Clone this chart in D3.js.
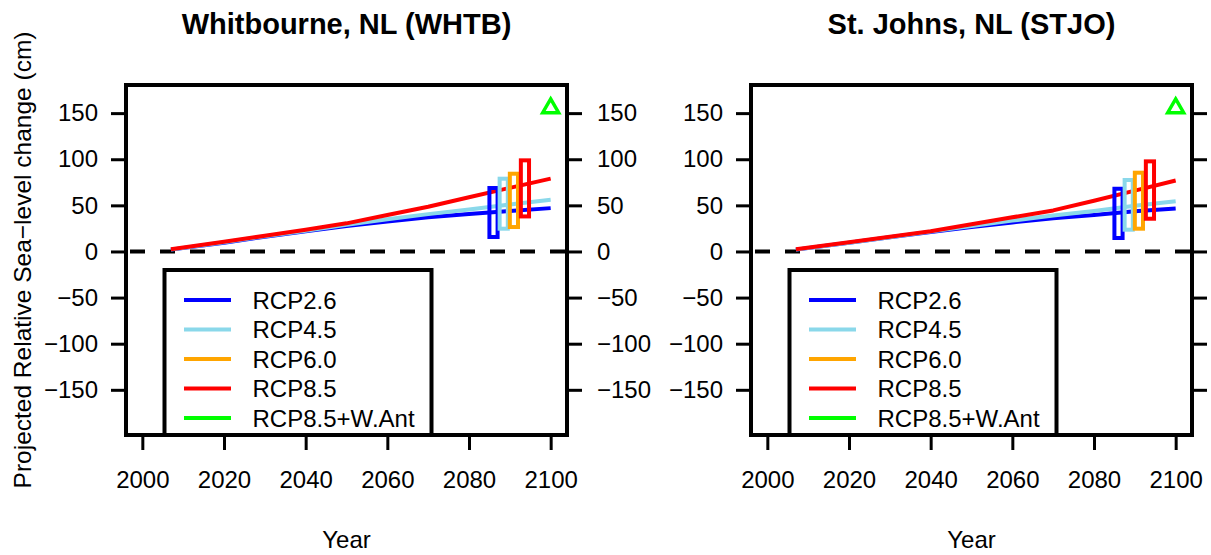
<!DOCTYPE html>
<html>
<head>
<meta charset="utf-8">
<script src="https://cdn.jsdelivr.net/npm/d3@7"></script>
<style>
  html, body { margin: 0; padding: 0; background: #fff; }
  svg { display: block; font-family: "Liberation Sans", Arial, sans-serif; }
</style>
</head>
<body>
<svg id="chart" width="1211" height="555"></svg>
<script>
// Projection years shared by both stations
const years = [2007, 2020, 2030, 2040, 2050, 2060, 2070, 2080, 2090, 2100];

// Whitbourne (WHTB) projected relative sea-level change, cm
const whtbRcp26 = [2, 9.5, 16, 22, 27.5, 32.5, 37, 40.5, 44, 47];
const whtbRcp45 = [2, 10, 16.5, 22.5, 29, 35, 40.5, 45.5, 51, 56];
const whtbRcp85 = [2.5, 10.5, 17, 23.5, 30.5, 39.5, 48.5, 58.8, 69, 79];

// St. Johns (STJO) projected relative sea-level change, cm
const stjoRcp26 = [2, 9.5, 15.5, 21, 26.5, 31.5, 36, 39.5, 43.5, 46.5];
const stjoRcp45 = [2, 9.5, 15.5, 21.5, 27.5, 33.5, 39, 44, 49.5, 54.5];
const stjoRcp85 = [2.5, 10, 16, 22, 29.5, 37, 44.5, 55, 66, 77];

// 2100 likely ranges drawn as boxes (RCP2.6, RCP4.5, RCP6.0, RCP8.5)
const rangeYears = [2086, 2088.5, 2091, 2093.7];
const whtbRangeLow  = [15.7, 24.7, 26.5, 38];
const whtbRangeHigh = [68.8, 78.9, 84.3, 98.8];
const stjoRangeLow  = [14.6, 23.6, 24.7, 35.5];
const stjoRangeHigh = [68, 77.5, 85.4, 97.7];

// RCP8.5 + West Antarctic contribution at 2100
const wantYear = 2100;
const whtbWAnt = 156.5;
const stjoWAnt = 156.5;

const scenarioNames = ["RCP2.6", "RCP4.5", "RCP6.0", "RCP8.5", "RCP8.5+W.Ant"];
const scenarioColors = ["#0000ff", "#8ad8ea", "#ffa500", "#ff0000", "#00ff00"];

const yTicks = [-150, -100, -50, 0, 50, 100, 150];
const xTicks = [2000, 2020, 2040, 2060, 2080, 2100];

const panels = [
  { title: "Whitbourne, NL (WHTB)", dx: 0, rcp26: whtbRcp26, rcp45: whtbRcp45, rcp85: whtbRcp85,
    low: whtbRangeLow, high: whtbRangeHigh, want: whtbWAnt, yLabel: true, rightLabels: true },
  { title: "St. Johns, NL (STJO)", dx: 625, rcp26: stjoRcp26, rcp45: stjoRcp45, rcp85: stjoRcp85,
    low: stjoRangeLow, high: stjoRangeHigh, want: stjoWAnt, yLabel: false, rightLabels: false }
];

const svg = d3.select("#chart");
const plotLeft = 126, plotRight = 567, plotTop = 85, plotBottom = 435;

const x = d3.scaleLinear().domain([1996, 2104]).range([plotLeft, plotRight]);
const y = d3.scaleLinear().domain([-199, 180.5]).range([plotBottom, plotTop]);

const signed = d => d < 0 ? "\u2212" + Math.abs(d) : String(d);

function styleAxis(g) {
  g.select(".domain").remove();
  g.selectAll(".tick line").attr("stroke", "#000").attr("stroke-width", 3);
  g.selectAll(".tick text").attr("fill", "#000").attr("font-size", 24)
    .attr("font-family", "'Liberation Sans', Arial, sans-serif");
}

panels.forEach(p => {
  const g = svg.append("g").attr("transform", `translate(${p.dx},0)`);

  // title
  g.append("text").attr("x", (plotLeft + plotRight) / 2).attr("y", 34)
    .attr("text-anchor", "middle").attr("font-size", 29).attr("font-weight", "bold")
    .text(p.title);

  // axes
  g.append("g").attr("transform", `translate(0,${plotBottom})`)
    .call(d3.axisBottom(x).tickValues(xTicks).tickFormat(d3.format("d")).tickSize(15).tickPadding(21))
    .call(styleAxis);
  g.append("g").attr("transform", `translate(${plotLeft},0)`)
    .call(d3.axisLeft(y).tickValues(yTicks).tickFormat(signed).tickSize(15).tickPadding(13))
    .call(styleAxis);
  const rAxis = g.append("g").attr("transform", `translate(${plotRight},0)`)
    .call(d3.axisRight(y).tickValues(yTicks).tickFormat(signed).tickSize(15).tickPadding(15))
    .call(styleAxis);
  if (!p.rightLabels) rAxis.selectAll(".tick text").remove();

  // axis titles
  g.append("text").attr("x", (plotLeft + plotRight) / 2).attr("y", 548)
    .attr("text-anchor", "middle").attr("font-size", 24).text("Year");
  if (p.yLabel) {
    g.append("text").attr("transform", `translate(31,${(plotTop + plotBottom) / 2}) rotate(-90)`)
      .attr("text-anchor", "middle").attr("font-size", 24.5)
      .text("Projected Relative Sea\u2212level change (cm)");
  }

  // zero reference line
  g.append("line").attr("x1", plotLeft).attr("x2", plotRight).attr("y1", y(0)).attr("y2", y(0))
    .attr("stroke", "#000").attr("stroke-width", 4).attr("stroke-dasharray", "15,15")
    .attr("stroke-dashoffset", -4);

  // projection lines
  const line = d3.line().x((d, i) => x(years[i])).y(d => y(d));
  [[p.rcp26, 0], [p.rcp45, 1], [p.rcp85, 3]].forEach(([vals, ci]) => {
    g.append("path").datum(vals).attr("d", line).attr("fill", "none")
      .attr("stroke", scenarioColors[ci]).attr("stroke-width", 4).attr("stroke-linejoin", "round");
  });

  // 2100 ranges
  rangeYears.forEach((yr, i) => {
    g.append("rect").attr("x", x(yr - 1)).attr("width", x(yr + 1) - x(yr - 1))
      .attr("y", y(p.high[i])).attr("height", y(p.low[i]) - y(p.high[i]))
      .attr("fill", "none").attr("stroke", scenarioColors[i]).attr("stroke-width", 4);
  });

  // West Antarctic marker (open triangle)
  const tx = x(wantYear), ty = y(p.want);
  g.append("path").attr("d", d3.symbol().type(d3.symbolTriangle).size(110)())
    .attr("transform", `translate(${tx},${ty + 1})`)
    .attr("fill", "none").attr("stroke", scenarioColors[4]).attr("stroke-width", 3.5);

  // legend
  const lg = g.append("g");
  lg.append("rect").attr("x", 164.5).attr("y", 270).attr("width", 267).attr("height", plotBottom - 270)
    .attr("fill", "#fff").attr("stroke", "#000").attr("stroke-width", 4);
  const rowY = [300, 329.5, 359, 388.5, 418];
  scenarioNames.forEach((name, i) => {
    lg.append("line").attr("x1", 184).attr("x2", 231).attr("y1", rowY[i]).attr("y2", rowY[i])
      .attr("stroke", scenarioColors[i]).attr("stroke-width", 4);
    lg.append("text").attr("x", 252.5).attr("y", rowY[i] + 8.6).attr("font-size", 24).text(name);
  });

  // plot frame
  g.append("rect").attr("x", plotLeft).attr("y", plotTop).attr("width", plotRight - plotLeft).attr("height", plotBottom - plotTop)
    .attr("fill", "none").attr("stroke", "#000").attr("stroke-width", 4);
});
</script>
</body>
</html>
